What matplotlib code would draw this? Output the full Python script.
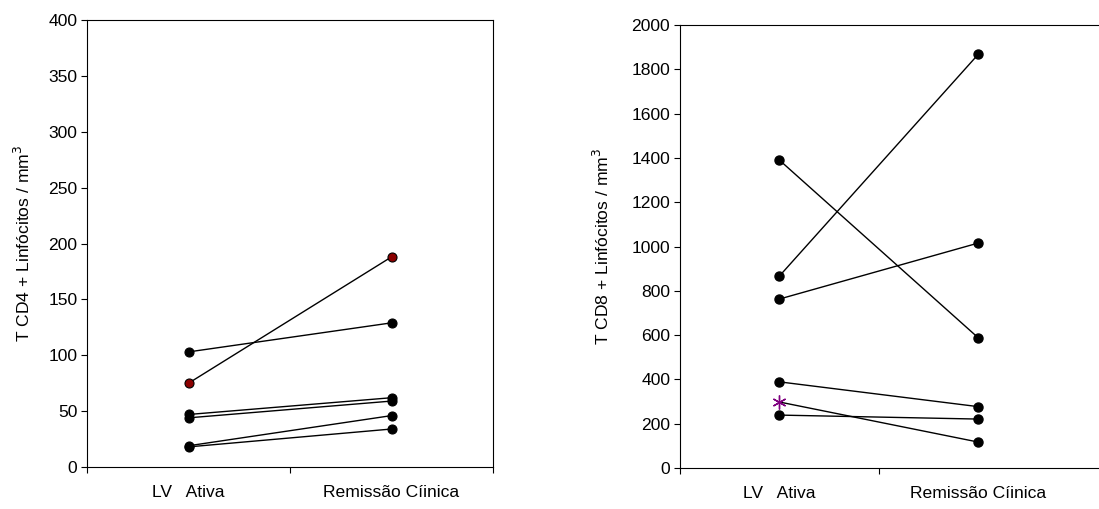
import matplotlib
matplotlib.use("Agg")
import matplotlib.pyplot as plt

plt.rcParams['font.family'] = ['Liberation Sans', 'DejaVu Sans']

groups = ["LV   Ativa", "Remissão Cíinica"]

# CD4 per patient: active -> remission
cd4_ativa = [103, 75, 47, 44, 19, 18]
cd4_remissao = [129, 188, 62, 59, 46, 34]
cd4_red = 1   # index of highlighted patient

# CD8 per patient: active -> remission
cd8_ativa = [1390, 867, 763, 389, 298, 239]
cd8_remissao = [587, 1869, 1016, 277, 117, 221]
cd8_star = 4  # index drawn with asterisk marker at start

xpos = [0.5, 1.5]
fs = 12.6

fig = plt.figure(figsize=(10.99, 5.09), dpi=100)

# left panel
ax1 = fig.add_axes([0.0792, 0.0825, 0.3694, 0.8782])
for i in range(len(cd4_ativa)):
    fc = '#8b0000' if i == cd4_red else 'black'
    ax1.plot(xpos, [cd4_ativa[i], cd4_remissao[i]], color='black', lw=1.0,
             marker='o', ms=6.5, mfc=fc, mec='black', mew=0.8)
ax1.set_xlim(0, 2)
ax1.set_ylim(0, 400)
ax1.set_yticks(range(0, 401, 50))
ax1.set_xticks([0, 1, 2])
ax1.set_xticklabels([])
ax1.set_xticks(xpos, minor=True)
ax1.set_xticklabels(groups, minor=True)
ax1.tick_params(axis='x', which='minor', length=0, pad=13, labelsize=fs)
ax1.tick_params(axis='x', which='major', length=4, direction='out')
ax1.tick_params(axis='y', length=4, labelsize=fs, pad=3)
ax1.set_ylabel("T CD4 + Linfócitos / mm$^3$", fontsize=fs, labelpad=11)

# right panel (runs off the right edge like the source)
ax2 = fig.add_axes([0.6187, 0.0805, 0.3984, 0.8703])
for i in range(len(cd8_ativa)):
    ax2.plot(xpos, [cd8_ativa[i], cd8_remissao[i]], color='black', lw=1.0, zorder=2)
    ax2.plot(xpos[1], cd8_remissao[i], 'o', color='black', ms=6.5, zorder=3)
    if i == cd8_star:
        ax2.plot(xpos[0], cd8_ativa[i], marker=(6, 2, 0), color='#800080',
                 ms=10, mew=1.0, zorder=3, linestyle='none')
    else:
        ax2.plot(xpos[0], cd8_ativa[i], 'o', color='black', ms=6.5, zorder=3)
ax2.set_xlim(0, 2.2)
ax2.set_ylim(0, 2000)
ax2.set_yticks(range(0, 2001, 200))
ax2.set_xticks([0, 1])
ax2.set_xticklabels([])
ax2.set_xticks(xpos, minor=True)
ax2.set_xticklabels(groups, minor=True)
ax2.tick_params(axis='x', which='minor', length=0, pad=13, labelsize=fs)
ax2.tick_params(axis='x', which='major', length=4, direction='out')
ax2.tick_params(axis='y', length=4, labelsize=fs, pad=3)
ax2.set_ylabel("T CD8 + Linfócitos / mm$^3$", fontsize=fs, labelpad=14)

fig.savefig("out.png", dpi=100)
